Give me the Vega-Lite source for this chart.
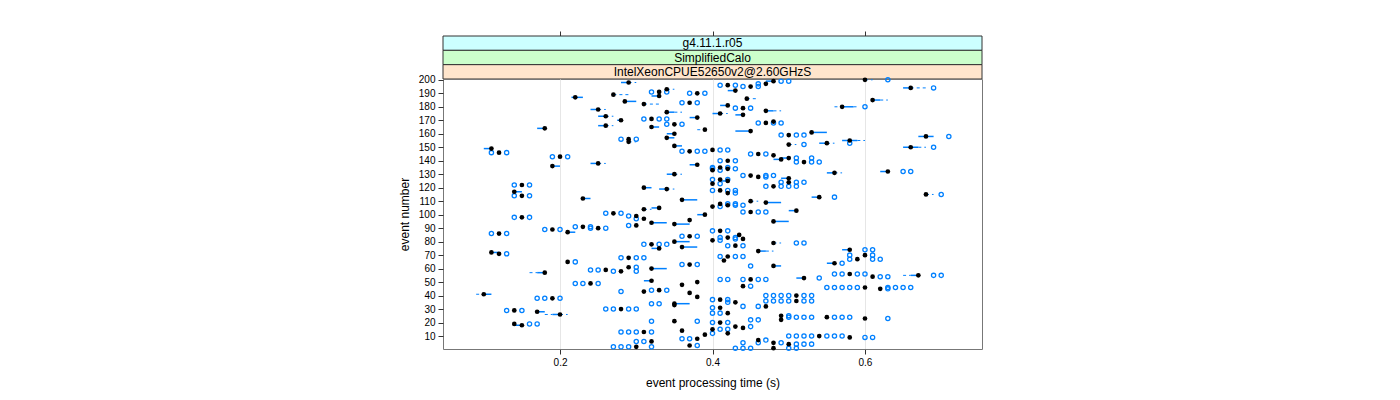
{
 "$schema": "https://vega.github.io/schema/vega-lite/v6.json",
 "padding": {"left": 397, "top": 30, "right": 5, "bottom": 5},
 "spacing": 0,
 "bounds": "flush",
 "config": {
  "font": "Liberation Sans",
  "view": {"stroke": "#777", "strokeWidth": 1},
  "axis": {"labelFont": "Liberation Sans", "titleFont": "Liberation Sans", "labelFontSize": 10, "titleFontSize": 12, "titleFontWeight": "normal", "labelColor": "#000", "titleColor": "#000", "tickColor": "#333", "domain": false}
 },
 "vconcat": [
  {
   "width": 539, "height": 43,
   "view": {"stroke": null},
   "data": {"values": [
    {"lab": "g4.11.1.r05"},
    {"lab": "SimplifiedCalo"},
    {"lab": "IntelXeonCPUE52650v2@2.60GHzS"}
   ]},
   "encoding": {"y": {"field": "lab", "type": "nominal", "sort": ["g4.11.1.r05", "SimplifiedCalo", "IntelXeonCPUE52650v2@2.60GHzS"], "axis": null, "scale": {"paddingInner": 0, "paddingOuter": 0}}},
   "layer": [
    {"mark": {"type": "rect", "stroke": "#333", "strokeWidth": 1},
     "encoding": {"fill": {"field": "lab", "type": "nominal", "scale": {"domain": ["g4.11.1.r05", "SimplifiedCalo", "IntelXeonCPUE52650v2@2.60GHzS"], "range": ["#ccffff", "#ccffcc", "#ffe5cc"]}, "legend": null}}},
    {"mark": {"type": "text", "fontSize": 12, "font": "Liberation Sans", "color": "#000"},
     "encoding": {"text": {"field": "lab"},
      "x": {"datum": 0.4, "type": "quantitative", "scale": {"domain": [0.0465, 0.7535], "nice": false, "zero": false},
       "axis": {"orient": "top", "values": [0.2, 0.4, 0.6], "labels": false, "tickSize": 5, "title": null, "grid": false, "domain": false}}}}
   ]
  },
  {
   "width": 539, "height": 270,
   "data": {"values": [
    {"e":200,"m":0.60,"a":0.60,"b":0.60,"hi":0.61,"o":[0.63]},
    {"e":199,"m":0.48,"a":0.47,"b":0.48,"o":[0.49,0.50]},
    {"e":198,"m":0.29,"a":0.28,"b":0.29,"hi":0.30},
    {"e":197,"m":0.47,"o":[0.46]},
    {"e":196,"m":0.42,"o":[0.41,0.43]},
    {"e":195,"m":0.45,"o":[0.44,0.46]},
    {"e":194,"m":0.66,"a":0.65,"b":0.66,"hi":0.68,"o":[0.69]},
    {"e":193,"m":0.34,"a":0.34,"b":0.34,"hi":0.35},
    {"e":192,"m":0.43,"a":0.42,"b":0.43},
    {"e":191,"m":0.33,"o":[0.32,0.34]},
    {"e":190,"m":0.38,"o":[0.37,0.39]},
    {"e":189,"m":0.27,"a":0.27,"b":0.27,"hi":0.29},
    {"e":188,"m":0.33,"a":0.32,"b":0.33},
    {"e":187,"m":0.22,"a":0.215,"b":0.23},
    {"e":186,"m":0.445,"a":0.445,"b":0.445,"hi":0.46},
    {"e":185,"m":0.61,"a":0.61,"b":0.62,"hi":0.63},
    {"e":184,"m":0.285,"a":0.285,"b":0.30},
    {"e":183,"m":0.37,"o":[0.36,0.38]},
    {"e":182,"m":0.31,"a":0.31,"b":0.31,"hi":0.33},
    {"e":181,"m":0.42,"a":0.41,"b":0.42},
    {"e":180,"m":0.57,"a":0.57,"b":0.585,"lo":0.56,"hi":0.59,"o":[0.60]},
    {"e":179,"m":0.44,"o":[0.43,0.45]},
    {"e":178,"m":0.25,"a":0.24,"b":0.25,"hi":0.26},
    {"e":177,"m":0.47,"a":0.47,"b":0.48,"hi":0.49},
    {"e":176,"m":0.34,"a":0.34,"b":0.35,"hi":0.36},
    {"e":175,"m":0.41,"a":0.40,"b":0.41,"hi":0.42},
    {"e":174,"m":0.44,"a":0.43,"b":0.44},
    {"e":173,"m":0.26,"a":0.25,"b":0.26,"hi":0.27},
    {"e":172,"m":0.38,"a":0.37,"b":0.38},
    {"e":171,"m":0.32,"o":[0.31,0.33,0.34]},
    {"e":170,"m":0.28,"a":0.275,"b":0.28},
    {"e":169,"m":0.48},
    {"e":168,"m":0.47,"o":[0.46,0.48,0.49]},
    {"e":167,"m":0.35,"o":[0.34,0.36]},
    {"e":166,"m":0.26,"a":0.25,"b":0.26,"hi":0.27},
    {"e":165,"m":0.32,"a":0.32,"b":0.33},
    {"e":164,"m":0.18,"a":0.17,"b":0.18},
    {"e":163,"m":0.39,"a":0.39,"b":0.39,"lo":0.38},
    {"e":162,"m":0.45,"a":0.43,"b":0.45},
    {"e":161,"m":0.53,"a":0.53,"b":0.55},
    {"e":160,"m":0.35,"a":0.34,"b":0.35},
    {"e":159,"m":0.50,"o":[0.49,0.51,0.52]},
    {"e":158,"m":0.68,"a":0.67,"b":0.69,"o":[0.71]},
    {"e":157,"m":0.34,"a":0.34,"b":0.35},
    {"e":156,"m":0.29,"o":[0.28,0.30]},
    {"e":155,"m":0.58,"a":0.57,"b":0.59,"hi":0.60},
    {"e":154,"m":0.29,"a":0.29,"b":0.29,"hi":0.30},
    {"e":153,"m":0.55,"a":0.54,"b":0.55,"hi":0.56,"o":[0.58]},
    {"e":152,"m":0.50,"a":0.50,"b":0.50,"hi":0.51,"o":[0.52]},
    {"e":151,"m":0.35,"a":0.35,"b":0.36},
    {"e":150,"m":0.66,"a":0.65,"b":0.67,"hi":0.68,"o":[0.69]},
    {"e":149,"m":0.11,"a":0.10,"b":0.11},
    {"e":148,"m":0.40,"o":[0.41,0.42]},
    {"e":147,"m":0.37,"o":[0.36,0.38,0.39]},
    {"e":146,"m":0.12,"o":[0.11,0.13]},
    {"e":145,"m":0.46,"o":[0.45,0.47]},
    {"e":144,"m":0.48},
    {"e":143,"m":0.20,"o":[0.19,0.21]},
    {"e":142,"m":0.50,"a":0.49,"b":0.50,"o":[0.51,0.53]},
    {"e":141,"m":0.49,"a":0.48,"b":0.49},
    {"e":140,"m":0.42,"o":[0.41,0.43]},
    {"e":139,"m":0.52,"o":[0.51,0.53,0.54]},
    {"e":138,"m":0.25,"a":0.24,"b":0.25,"hi":0.26},
    {"e":137,"m":0.38,"a":0.37,"b":0.38},
    {"e":136,"m":0.19,"a":0.19,"b":0.20},
    {"e":135,"m":0.41,"o":[0.40,0.42]},
    {"e":134,"m":0.42,"o":[0.40,0.43]},
    {"e":133,"m":0.40,"o":[0.41]},
    {"e":132,"m":0.63,"a":0.62,"b":0.63,"o":[0.65,0.66]},
    {"e":131,"m":0.56,"a":0.55,"b":0.56,"hi":0.57},
    {"e":130,"m":0.35,"a":0.34,"b":0.35,"hi":0.36},
    {"e":129,"m":0.45,"o":[0.44,0.47,0.48]},
    {"e":128,"m":0.46,"o":[0.47]},
    {"e":127,"m":0.50,"a":0.49,"b":0.50},
    {"e":126,"m":0.41,"o":[0.40,0.42]},
    {"e":125,"m":0.42,"a":0.41,"b":0.42},
    {"e":124,"m":0.50,"o":[0.49,0.51,0.52]},
    {"e":123,"m":0.40,"o":[0.41]},
    {"e":122,"m":0.15,"o":[0.14,0.16]},
    {"e":121,"m":0.48,"o":[0.47,0.49,0.50,0.51]},
    {"e":120,"m":0.31,"a":0.31,"b":0.32},
    {"e":119,"m":0.34,"a":0.33,"b":0.34,"hi":0.35},
    {"e":118,"m":0.41,"o":[0.40,0.42,0.43]},
    {"e":117,"m":0.14,"a":0.14,"b":0.15},
    {"e":116,"m":0.42,"o":[0.43]},
    {"e":115,"m":0.68,"a":0.68,"b":0.68,"hi":0.69,"o":[0.70]},
    {"e":114,"m":0.15,"o":[0.14,0.16]},
    {"e":113,"m":0.54,"a":0.53,"b":0.54,"o":[0.56]},
    {"e":112,"m":0.23,"a":0.23,"b":0.24},
    {"e":111,"m":0.36,"a":0.36,"b":0.38},
    {"e":110,"m":0.45,"a":0.45,"b":0.45,"hi":0.46},
    {"e":109,"m":0.47,"a":0.47,"b":0.49},
    {"e":108,"m":0.41,"o":[0.42,0.43]},
    {"e":107,"m":0.42,"o":[0.43,0.44]},
    {"e":106,"m":0.40,"o":[0.41]},
    {"e":105,"m":0.33,"a":0.32,"b":0.33},
    {"e":104,"m":0.31,"a":0.31,"b":0.31,"hi":0.32},
    {"e":103,"m":0.51,"a":0.50,"b":0.51},
    {"e":102,"m":0.45,"o":[0.44,0.46,0.47]},
    {"e":101,"m":0.27,"o":[0.26,0.28]},
    {"e":100,"m":0.39,"a":0.38,"b":0.39},
    {"e":99,"m":0.30,"o":[0.29]},
    {"e":98,"m":0.15,"o":[0.14,0.16]},
    {"e":97,"m":0.31,"o":[0.30]},
    {"e":96,"m":0.37},
    {"e":95,"m":0.48,"a":0.48,"b":0.50},
    {"e":94,"m":0.32,"a":0.32,"b":0.34},
    {"e":93,"m":0.35,"a":0.35,"b":0.37},
    {"e":92,"m":0.30,"o":[0.29]},
    {"e":91,"m":0.23,"o":[0.22,0.24]},
    {"e":90,"m":0.25,"o":[0.24,0.26]},
    {"e":89,"m":0.19,"o":[0.18,0.20]},
    {"e":88,"m":0.41,"o":[0.40,0.42]},
    {"e":87,"m":0.21,"a":0.21,"b":0.22},
    {"e":86,"m":0.12,"o":[0.11,0.13]},
    {"e":85,"m":0.435},
    {"e":84,"m":0.37,"o":[0.36,0.38]},
    {"e":83,"m":0.42,"o":[0.41,0.43]},
    {"e":82,"m":0.44,"o":[0.43]},
    {"e":81,"m":0.40,"o":[0.41]},
    {"e":80,"m":0.35,"a":0.35,"b":0.37},
    {"e":79,"m":0.48,"a":0.48,"b":0.48,"hi":0.49,"o":[0.51,0.52]},
    {"e":78,"m":0.32,"o":[0.31,0.33,0.34]},
    {"e":77,"m":0.43,"o":[0.42,0.44]},
    {"e":76,"m":0.36,"a":0.36,"b":0.38},
    {"e":75,"m":0.33,"a":0.32,"b":0.33},
    {"e":74,"m":0.58,"a":0.57,"b":0.58,"o":[0.60,0.61]},
    {"e":73,"m":0.46,"a":0.46,"b":0.47,"hi":0.48},
    {"e":72,"m":0.11,"a":0.11,"b":0.12},
    {"e":71,"m":0.12,"o":[0.13]},
    {"e":70,"m":0.60,"o":[0.58,0.61]},
    {"e":69,"m":0.42,"o":[0.41,0.43,0.44]},
    {"e":68,"m":0.29,"o":[0.28,0.30,0.31]},
    {"e":67,"m":0.59,"o":[0.58,0.61,0.62]},
    {"e":66,"m":0.415},
    {"e":65,"m":0.21,"o":[0.22]},
    {"e":64,"m":0.56,"a":0.55,"b":0.56,"o":[0.57]},
    {"e":63,"m":0.37,"o":[0.36,0.38]},
    {"e":62,"m":0.48,"a":0.48,"b":0.49,"o":[0.45]},
    {"e":61,"m":0.29,"o":[0.30]},
    {"e":60,"m":0.32,"a":0.32,"b":0.34},
    {"e":59,"m":0.26,"o":[0.24,0.25]},
    {"e":58,"m":0.28,"o":[0.27,0.30]},
    {"e":57,"m":0.18,"a":0.17,"b":0.18,"lo":0.16},
    {"e":56,"m":0.58,"o":[0.56,0.57,0.59,0.60]},
    {"e":55,"m":0.67,"a":0.66,"b":0.67,"lo":0.65,"o":[0.69,0.70]},
    {"e":54,"m":0.61,"o":[0.62,0.63]},
    {"e":53,"m":0.52,"a":0.51,"b":0.52,"o":[0.54]},
    {"e":52,"m":0.45,"o":[0.41,0.42,0.44,0.46,0.47]},
    {"e":51,"m":0.32,"a":0.31,"b":0.32},
    {"e":50,"m":0.38},
    {"e":49,"m":0.24,"o":[0.22,0.23,0.25]},
    {"e":48,"m":0.36},
    {"e":47,"m":0.44,"o":[0.45]},
    {"e":46,"m":0.60,"o":[0.55,0.56,0.57,0.58,0.59,0.63,0.64,0.65,0.66]},
    {"e":45,"m":0.62,"o":[0.63]},
    {"e":44,"m":0.33,"o":[0.32,0.34]},
    {"e":43,"m":0.31,"o":[0.28]},
    {"e":42,"m":0.37},
    {"e":41,"m":0.10,"a":0.10,"b":0.11,"lo":0.09},
    {"e":40,"m":0.51,"o":[0.47,0.48,0.49,0.50,0.52,0.53]},
    {"e":39,"m":0.38},
    {"e":38,"m":0.19,"o":[0.17,0.18,0.20]},
    {"e":37,"m":0.41,"o":[0.40,0.42]},
    {"e":36,"m":0.51,"o":[0.47,0.48,0.49,0.50,0.52,0.53]},
    {"e":35,"m":0.43,"o":[0.42]},
    {"e":34,"m":0.35,"a":0.35,"b":0.37,"o":[0.32,0.33]},
    {"e":33,"m":0.35},
    {"e":32,"m":0.47,"o":[0.44,0.46]},
    {"e":31,"m":0.41,"o":[0.40]},
    {"e":30,"m":0.28,"o":[0.26,0.27,0.29,0.30]},
    {"e":29,"m":0.14,"o":[0.13,0.15]},
    {"e":28,"m":0.17,"a":0.17,"b":0.18},
    {"e":27,"m":0.42,"o":[0.40,0.41]},
    {"e":26,"m":0.20,"a":0.19,"b":0.20,"lo":0.18,"hi":0.21},
    {"e":25,"m":0.49,"o":[0.50]},
    {"e":24,"m":0.55,"o":[0.50,0.51,0.52,0.53,0.56,0.57,0.58]},
    {"e":23,"m":0.60,"o":[0.63]},
    {"e":22,"m":0.49,"o":[0.45,0.46]},
    {"e":21,"m":0.35,"o":[0.32,0.38]},
    {"e":20,"m":0.41,"o":[0.40,0.42]},
    {"e":19,"m":0.14,"o":[0.16,0.17]},
    {"e":18,"m":0.15,"a":0.14,"b":0.15},
    {"e":17,"m":0.43,"o":[0.45]},
    {"e":16,"m":0.44},
    {"e":15,"m":0.40,"o":[0.41,0.42]},
    {"e":14,"m":0.36},
    {"e":13,"m":0.31,"o":[0.28,0.29,0.30,0.32]},
    {"e":12,"m":0.42,"o":[0.40]},
    {"e":11,"m":0.39},
    {"e":10,"m":0.54,"o":[0.50,0.51,0.52,0.53,0.55,0.56,0.57]},
    {"e":9,"m":0.58,"o":[0.60,0.61]},
    {"e":8,"m":0.38,"o":[0.36,0.37]},
    {"e":7,"m":0.46,"o":[0.47]},
    {"e":6,"m":0.32,"o":[0.30,0.31]},
    {"e":5,"m":0.48,"o":[0.44,0.46,0.49]},
    {"e":4,"m":0.50,"o":[0.51,0.52,0.53]},
    {"e":3,"m":0.37,"o":[0.38]},
    {"e":2,"m":0.30,"o":[0.27,0.28,0.29,0.32]},
    {"e":1,"m":0.48,"o":[0.43,0.44,0.45,0.50,0.51]}
   ]},
   "encoding": {
    "y": {"field": "e", "type": "quantitative", "title": "event number", "scale": {"domain": [0.4, 200.6], "nice": false, "zero": false},
     "axis": {"values": [10,20,30,40,50,60,70,80,90,100,110,120,130,140,150,160,170,180,190,200], "tickSize": 5, "labelPadding": 3, "titlePadding": 7, "grid": false, "labelOverlap": false, "labelBound": false, "labelFlush": false}}
   },
   "layer": [
    {"mark": {"type": "rule", "color": "#0080ff", "strokeWidth": 1, "strokeDash": [3, 3]},
     "encoding": {
      "x": {"field": "lo", "type": "quantitative", "title": "event processing time (s)", "scale": {"domain": [0.0465, 0.7535], "nice": false, "zero": false},
       "axis": {"values": [0.2, 0.4, 0.6], "format": ".1f", "tickSize": 5, "labelPadding": 3, "titlePadding": 10, "grid": true, "gridColor": "#e6e6e6"}},
      "x2": {"field": "a"}}},
    {"mark": {"type": "rule", "color": "#0080ff", "strokeWidth": 1, "strokeDash": [3, 3]},
     "encoding": {
      "x": {"field": "b", "type": "quantitative", "title": "event processing time (s)", "scale": {"domain": [0.0465, 0.7535], "nice": false, "zero": false}},
      "x2": {"field": "hi"}}},
    {"mark": {"type": "rule", "color": "#0080ff", "strokeWidth": 1.5},
     "encoding": {
      "x": {"field": "a", "type": "quantitative", "title": "event processing time (s)", "scale": {"domain": [0.0465, 0.7535], "nice": false, "zero": false}},
      "x2": {"field": "b"}}},
    {"transform": [{"filter": "isArray(datum.o)"}, {"flatten": ["o"]}],
     "mark": {"type": "point", "shape": "circle", "filled": false, "color": "#0080ff", "strokeWidth": 1.3, "size": 18, "opacity": 1},
     "encoding": {
      "x": {"field": "o", "type": "quantitative", "title": "event processing time (s)", "scale": {"domain": [0.0465, 0.7535], "nice": false, "zero": false}}}},
    {"mark": {"type": "circle", "color": "#000", "size": 22, "opacity": 1},
     "encoding": {
      "x": {"field": "m", "type": "quantitative", "title": "event processing time (s)", "scale": {"domain": [0.0465, 0.7535], "nice": false, "zero": false}}}}
   ]
  }
 ]
}
